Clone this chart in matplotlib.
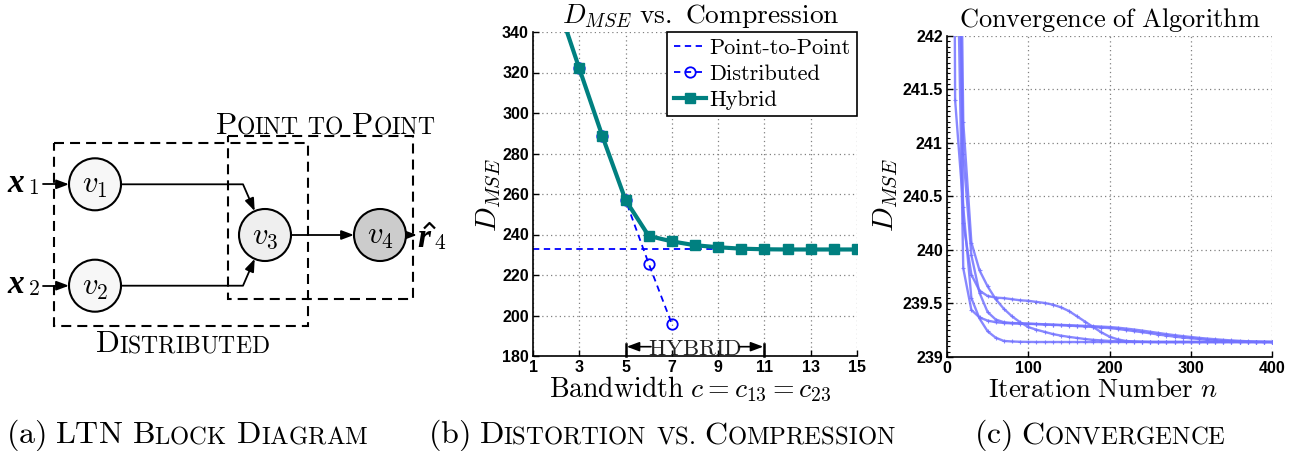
import matplotlib
matplotlib.use("Agg")
import matplotlib.pyplot as plt
from matplotlib.patches import Circle, Rectangle, FancyArrowPatch
from matplotlib.path import Path
from matplotlib.transforms import IdentityTransform
from matplotlib.font_manager import FontProperties
from matplotlib.ticker import FixedLocator, MultipleLocator, FuncFormatter

plt.rcParams["mathtext.fontset"] = "cm"
plt.rcParams["font.family"] = ["Liberation Sans", "DejaVu Sans"]

# ---------------- data ----------------
# (b) distortion vs. compression
bandwidth = [2, 3, 4, 5, 6, 7, 8, 9, 10, 11, 12, 13, 14, 15]
hybrid = [356.0, 322.0, 288.5, 257.0, 239.3, 236.6, 234.7, 233.7, 233.0,
          232.7, 232.6, 232.6, 232.6, 232.6]
distributed_bw = [2, 3, 4, 5, 6, 7]
distributed = [356.0, 322.0, 288.5, 257.0, 225.6, 195.8]
point_to_point = 232.6
bandwidth_span = [1, 15]
hybrid_range = [5, 11]
series_names = ["Point-to-Point", "Distributed", "Hybrid"]

# (c) convergence of the algorithm, five runs
iterations = list(range(0, 401, 10))
run1 = [258.0, 241.4, 240.4, 239.55, 239.36, 239.24, 239.18, 239.15, 239.145, 239.142,
        239.141, 239.14, 239.14, 239.14, 239.14, 239.14, 239.14, 239.14, 239.14, 239.14,
        239.14, 239.14, 239.14, 239.14, 239.14, 239.14, 239.14, 239.14, 239.14, 239.14,
        239.14, 239.14, 239.14, 239.14, 239.14, 239.14, 239.14, 239.14, 239.14, 239.14,
        239.14]
run2 = [262.0, 244.0, 239.83, 239.44, 239.37, 239.34, 239.325, 239.318, 239.314, 239.312,
        239.31, 239.307, 239.303, 239.30, 239.297, 239.293, 239.289, 239.285, 239.28, 239.275,
        239.27, 239.262, 239.252, 239.242, 239.232, 239.222, 239.21, 239.20, 239.19, 239.182,
        239.175, 239.168, 239.16, 239.155, 239.15, 239.147, 239.144, 239.142, 239.141, 239.14,
        239.14]
run3 = [266.0, 245.0, 240.9, 239.95, 239.6, 239.42, 239.35, 239.325, 239.318, 239.315,
        239.312, 239.309, 239.306, 239.303, 239.30, 239.297, 239.294, 239.291, 239.288, 239.284,
        239.28, 239.274, 239.266, 239.257, 239.247, 239.236, 239.225, 239.214, 239.204, 239.195,
        239.187, 239.179, 239.172, 239.166, 239.16, 239.155, 239.151, 239.147, 239.144, 239.142,
        239.14]
run4 = [270.0, 246.5, 240.25, 239.77, 239.62, 239.57, 239.555, 239.55, 239.54, 239.53,
        239.525, 239.515, 239.505, 239.49, 239.465, 239.43, 239.38, 239.33, 239.28, 239.23,
        239.19, 239.165, 239.15, 239.145, 239.142, 239.14, 239.14, 239.14, 239.14, 239.14,
        239.14, 239.14, 239.14, 239.14, 239.14, 239.14, 239.14, 239.14, 239.14, 239.14,
        239.14]
run5 = [274.0, 247.5, 241.2, 240.07, 239.81, 239.66, 239.54, 239.45, 239.38, 239.325,
        239.28, 239.255, 239.235, 239.215, 239.20, 239.188, 239.178, 239.168, 239.16, 239.155,
        239.15, 239.147, 239.145, 239.143, 239.142, 239.141, 239.14, 239.14, 239.14, 239.14,
        239.14, 239.14, 239.14, 239.14, 239.14, 239.14, 239.14, 239.14, 239.14, 239.14,
        239.14]
runs = [run1, run2, run3, run4, run5]

b_xticks = [1, 3, 5, 7, 9, 11, 13, 15]
b_yticks = [180, 200, 220, 240, 260, 280, 300, 320, 340]
c_xticks = [0, 100, 200, 300, 400]
c_yticks = [239, 239.5, 240, 240.5, 241, 241.5, 242]

W, H = 1297, 451
fig = plt.figure(figsize=(W / 100, H / 100), dpi=100)
renderer = fig.canvas.get_renderer()


def px(x, y):
    """figure-pixel (top-left origin) -> figure fraction"""
    return x / W, 1 - y / H


def smallcaps(words, xc, y_base, big, small, space):
    """Draw text in small capitals, centred on xc with its baseline at y_base (pixels,
    top-left origin); each word is a list of (text, is_capital)."""
    pieces = []
    x = 0.0
    for wi, word in enumerate(words):
        if wi:
            x += space
        for t, cap in word:
            txt = fig.text(0, 0, r"$\mathrm{%s}$" % t, fontsize=big if cap else small,
                           ha="left", va="baseline", transform=IdentityTransform())
            w = txt.get_window_extent(renderer).width
            pieces.append((txt, x))
            x += w
    x0 = xc - x / 2
    for txt, off in pieces:
        txt.set_position((x0 + off, H - y_base))


# ---------------- (a) block diagram ----------------
axA = fig.add_axes([0, 0, 460 / W, 1])
axA.set_xlim(0, 460)
axA.set_ylim(451, 0)
axA.axis("off")

dash = (0, (4.8, 2.9))
axA.add_patch(Rectangle((54.3, 143.3), 253.4, 182.4, fill=False, ec="k", lw=1.5, ls=dash))
axA.add_patch(Rectangle((227.7, 136.0), 185.6, 163.0, fill=False, ec="k", lw=1.5, ls=dash))

nodes = [((95, 184.3), "#f7f7f7", r"$v_1$"),
         ((95, 285.7), "#f7f7f7", r"$v_2$"),
         ((265, 235), "#efefef", r"$v_3$"),
         ((380, 235), "#cccccc", r"$v_4$")]
R = 26
for (cx, cy), fc, lab in nodes:
    axA.add_patch(Circle((cx, cy), R, fc=fc, ec="k", lw=1.5, zorder=3))
    axA.text(cx, cy + 1, lab, ha="center", va="center", fontsize=22, zorder=4)

astyle = "-|>,head_length=0.75,head_width=0.28"


def arrow(verts):
    p = FancyArrowPatch(path=Path(verts), arrowstyle=astyle, mutation_scale=10,
                        color="k", lw=1.3, shrinkA=0, shrinkB=0, zorder=2)
    axA.add_patch(p)


arrow([(43, 184.3), (69, 184.3)])
arrow([(43, 285.7), (69, 285.7)])
arrow([(121, 184.3), (243, 184.3), (254.7, 211.1)])
arrow([(121, 285.7), (243, 285.7), (254.7, 258.8)])
arrow([(291, 235), (354, 235)])
arrow([(406, 235), (417, 235)])

# bold italic vector symbols with subscripts
vec = dict(family="Liberation Serif", weight="bold", style="italic", fontsize=24)


def vector_label(x, base_y, sym, sub, sub_dx):
    axA.text(x, base_y, sym, ha="left", va="baseline", **vec)
    axA.text(x + sub_dx, base_y + 2, r"$\mathrm{%s}$" % sub, ha="left", va="baseline",
             fontsize=15.5)


vector_label(7, 192, "x", "1", 21)
vector_label(7, 293.4, "x", "2", 21)
vector_label(417, 247, "r", "4", 17)
axA.plot([424, 429.5, 435], [228.5, 223, 228.5], color="k", lw=1.6, solid_capstyle="butt")

smallcaps([[("P", True), ("OINT", False)], [("TO", False)], [("P", True), ("OINT", False)]],
          325, 133.5, 22.5, 17, 8)
smallcaps([[("D", True), ("ISTRIBUTED", False)]], 182, 352.5, 22.5, 17, 8)

# ---------------- (b) distortion vs compression ----------------
axB = fig.add_axes([533 / W, 1 - 356 / H, 324 / W, 324 / H])
blue = "#0000ff"
teal = "#008080"
axB.plot(bandwidth_span, [point_to_point, point_to_point], ls=(0, (3.5, 2.5)), color=blue,
         lw=1.3, label=series_names[0], zorder=2)
axB.plot(distributed_bw, distributed, ls=(0, (3.5, 2.5)), color=blue, lw=1.3, marker="o",
         ms=7.5, mfc="none", mec=blue, mew=1.3, label=series_names[1], zorder=3)
axB.plot(bandwidth, hybrid, color=teal, lw=3, marker="s", ms=7.5, mfc=teal, mec=teal,
         label=series_names[2], zorder=4)
axB.set_xlim(1, 15)
axB.set_ylim(180, 340)
axB.xaxis.set_major_locator(FixedLocator(b_xticks))
axB.yaxis.set_major_locator(FixedLocator(b_yticks))

# HYBRID range marker
for xb in hybrid_range:
    axB.plot([xb, xb], [180, 186], color="k", lw=1.8, clip_on=False, zorder=5)
mid = (hybrid_range[0] + hybrid_range[1]) / 2
axB.text(mid, 180.3, r"$\mathrm{HYBRID}$", ha="center", va="baseline", fontsize=16.5,
         color="#222222", zorder=5)
for x0, x1 in [(6.1, hybrid_range[0] + 0.05), (9.9, hybrid_range[1] - 0.05)]:
    axB.annotate("", xy=(x1, 184.6), xytext=(x0, 184.6),
                 arrowprops=dict(arrowstyle=astyle, mutation_scale=10, color="k", lw=1.2,
                                 shrinkA=0, shrinkB=0), zorder=5)

leg = axB.legend(loc="upper right", borderaxespad=0, fancybox=False, framealpha=1,
                 edgecolor="k", prop=FontProperties(family="cmr10", size=16),
                 handlelength=1.45, handletextpad=0.15, labelspacing=0.28, borderpad=0.3)
leg.get_frame().set_linewidth(1.2)

# ---------------- (c) convergence ----------------
axC = fig.add_axes([947 / W, 1 - 357 / H, 325 / W, 321 / H])
for r in runs:
    axC.plot(iterations, r, color="#7373ff", alpha=0.85, lw=1.7, marker="+", ms=3.5, mew=0.8)
axC.set_xlim(0, 400)
axC.set_ylim(239, 242)
axC.xaxis.set_major_locator(FixedLocator(c_xticks))
axC.yaxis.set_major_locator(FixedLocator(c_yticks))
axC.yaxis.set_minor_locator(MultipleLocator(0.05))
axC.yaxis.set_major_formatter(FuncFormatter(lambda v, p: "%g" % v))

for ax in (axB, axC):
    ax.grid(True, ls=(0, (1, 2.5)), color="0.5", lw=0.9)
    for s in ("top", "right"):
        ax.spines[s].set_visible(False)
    for s in ("left", "bottom"):
        ax.spines[s].set_linewidth(1.2)
    ax.tick_params(direction="in", length=4, width=1, labelsize=11.5, pad=3)
    ax.tick_params(which="minor", direction="in", length=2, width=0.8)
    for lab in ax.get_xticklabels() + ax.get_yticklabels():
        lab.set_fontweight("bold")

# titles and axis labels
fig.text(*px(701, 16), r"$D_{MSE}\ \mathrm{vs.\ Compression}$", ha="center", va="center",
         fontsize=19.8)
fig.text(*px(690, 389), r"$\mathrm{Bandwidth}\ c = c_{13} = c_{23}$", ha="center",
         va="center", fontsize=20)
fig.text(*px(489, 195), r"$D_{MSE}$", ha="center", va="center", rotation=90, fontsize=21)

fig.text(*px(1110, 20), r"$\mathrm{Convergence\ of\ Algorithm}$", ha="center", va="center",
         fontsize=19)
fig.text(*px(1103, 390), r"$\mathrm{Iteration\ Number}\ n$", ha="center", va="center",
         fontsize=19.3)
fig.text(*px(886, 195), r"$D_{MSE}$", ha="center", va="center", rotation=90, fontsize=21)

# sub-figure captions
cap_big, cap_small, cap_sep = 23, 17.8, 9
smallcaps([[("(a)", True)], [("LTN", True)], [("B", True), ("LOCK", False)],
           [("D", True), ("IAGRAM", False)]], 187, 443, cap_big, cap_small, cap_sep)
smallcaps([[("(b)", True)], [("D", True), ("ISTORTION", False)], [("VS.", False)],
           [("C", True), ("OMPRESSION", False)]], 662, 443, cap_big, cap_small, cap_sep)
smallcaps([[("(c)", True)], [("C", True), ("ONVERGENCE", False)]], 1100, 443,
          cap_big, cap_small, cap_sep)

fig.savefig("out.png", dpi=100)
